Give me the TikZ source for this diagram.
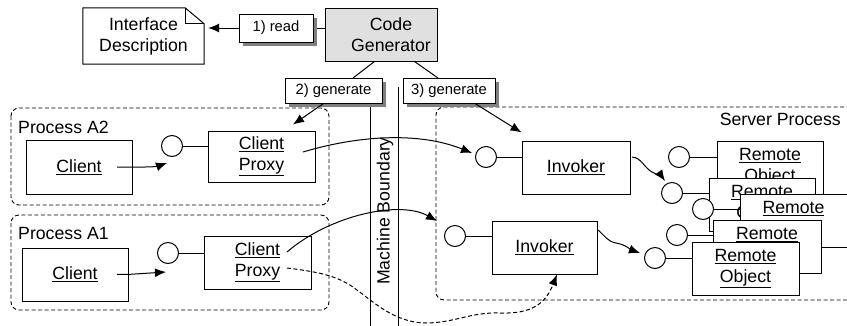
\documentclass[tikz,border=0pt]{standalone}
\usepackage{fontspec}
\setmainfont{Liberation Sans}
\usetikzlibrary{arrows.meta,shadows}
\begin{document}
\begin{tikzpicture}[x=1pt,y=-1pt,
  every node/.style={font=\fontsize{17.7}{21}\selectfont, inner sep=0pt},
  obj/.style={draw, fill=white, line width=1pt, align=center},
  tag/.style={draw, fill=white, line width=1pt, font=\fontsize{14.8}{17}\selectfont,
    drop shadow={shadow xshift=4pt, shadow yshift=-4pt, fill=black!50, opacity=1}},
  proc/.style={draw, line width=0.9pt, rounded corners=8pt, dash pattern=on 4pt off 2.5pt},
  port/.style={circle, draw, fill=white, line width=1pt, minimum size=21pt},
  conn/.style={line width=1pt},
  call/.style={line width=1pt, -{Latex[length=11pt,width=9pt]}},
  dcall/.style={call, dash pattern=on 4pt off 2.5pt},
]
\useasboundingbox (0,0) rectangle (847,325);

% process containers
\draw[proc] (11,108) rectangle (329,205);
\draw[proc] (11,215) rectangle (329,310);
\draw[proc] (870,107) -- (436,107) -- (436,300) -- (870,300);
\node[anchor=west] (lblA2) at (18,127) {Process A2};
\node[anchor=west] (lblA1) at (18,233) {Process A1};
\node[anchor=east] (lblSrv) at (841,119) {Server Process};

% machine boundary
\coordinate (mbl) at (370,87);
\coordinate (mbr) at (398,87);
\draw[conn] (mbl) -- (370,330);
\draw[conn] (mbr) -- (398,330);
\node[rotate=90] (mbtext) at (385,211) {Machine Boundary};

% code generator and interface description
\node[obj, fill=black!12, minimum width=112pt, minimum height=53pt] (cg) at (381,34.5)
  {\hspace*{20pt}Code\\\hspace*{20pt}Generator};
\node[minimum width=121pt, minimum height=56pt, align=center] (idesc) at (143.5,36) {Interface\\Description};
\draw[line width=1pt] (idesc.north west) -- ([xshift=-19pt]idesc.north east)
  -- ([yshift=-16pt]idesc.north east) -- (idesc.south east) -- (idesc.south west) -- cycle;
\draw[line width=1pt] ([xshift=-19pt]idesc.north east) -- ++(0,16) -- ([yshift=-16pt]idesc.north east);

\coordinate (rdline) at (0,28);
\draw[call, shorten >=4pt] (cg.west |- rdline) -- (idesc.east |- rdline);
\draw[conn] ([xshift=50pt]cg.south west) -- (353,78);
\draw[conn] ([xshift=90pt]cg.south west) -- (438,78);

% step labels
\node[tag, minimum width=74pt, minimum height=28pt] (read) at (276,28) {1) read};
\node[tag, minimum width=97pt, minimum height=25pt] (gen2) at (333.5,90.5) {2) generate};
\node[tag, minimum width=92pt, minimum height=25pt] (gen3) at (449,90.5) {3) generate};

% client side
\node[obj, minimum width=106pt, minimum height=54pt] (clA2) at (79,167) {\underline{Client}};
\node[obj, minimum width=107pt, minimum height=51pt] (pxA2) at (261.5,156.5) {\underline{Client}\\\underline{Proxy}};
\node[port] (ptA2) at (172,146) {};
\draw[conn] (ptA2.east) -- (ptA2.east -| pxA2.west);

\node[obj, minimum width=106pt, minimum height=53pt] (clA1) at (75,274.5) {\underline{Client}};
\node[obj, minimum width=107pt, minimum height=53pt] (pxA1) at (257.5,262.5) {\underline{Client}\\\underline{Proxy}};
\node[port] (ptA1) at (168,253) {};
\draw[conn] (ptA1.east) -- (ptA1.east -| pxA1.west);

% server side: invokers
\node[obj, minimum width=108pt, minimum height=53pt] (invU) at (576,167.5) {\underline{Invoker}};
\node[port] (ptIU) at (486,157) {};
\draw[conn] (ptIU.east) -- (ptIU.east -| invU.west);
\node[obj, minimum width=105pt, minimum height=53pt] (invL) at (544.5,247.5) {\underline{Invoker}};
\node[port] (ptIL) at (455,236) {};
\draw[conn] (ptIL.east) -- (ptIL.east -| invL.west);

% stack of remote objects, back to front
\foreach \n/\cx/\cy/\w/\px/\py in {1/770/167.5/106/679/157, 2/762/204.5/106/672/193,
    3/793.5/220.5/107/703/209, 4/767/247/108/677/235, 5/745.5/268.5/107/655/258} {
  \node[obj, minimum width=\w pt, minimum height=53pt] (ro\n) at (\cx,\cy) {\underline{Remote}\\\underline{Object}};
  \node[port] (pr\n) at (\px,\py) {};
  \draw[conn] (pr\n.east) -- (pr\n.east -| ro\n.west);
}

% generation arrows
\draw[call] ([xshift=-10pt]gen2.south) -- ([shift={(31.5,-6)}]pxA2.north);
\draw[call] ([xshift=26pt]gen3.south) -- ([shift={(0,-8)}]invU.north west);

% local calls
\draw[call] ([xshift=38pt]clA2.center) -- ([xshift=66pt]clA2.center) to[out=0,in=200] ([shift={(-5,17)}]ptA2.center);
\draw[call] ([xshift=42pt]clA1.center) to[out=10,in=180] ([xshift=52pt]clA1.center) -- ([shift={(-2,19)}]ptA1.center);

% remote calls
\draw[call] ([shift={(41.5,-4.5)}]pxA2.center) .. controls (360,135) and (420,132) .. ([shift={(-14,-4)}]ptIU.center);
\draw[call] ([shift={(29.5,-10.5)}]pxA1.center) .. controls (330,215) and (400,200) .. ([shift={(-18,-15)}]ptIL.center);
\draw[dcall] ([shift={(29.5,5.5)}]pxA1.center) .. controls (320,272) and (335,276) .. (350,285)
  .. controls (372,300) and (392,322) .. (425,323)
  .. controls (455,323) and (470,312) .. (500,313)
  .. controls (530,314) and (545,305) .. ([xshift=12.5pt]invL.south);

% invokers to remote objects
\draw[call] ([shift={(56,-10.5)}]invU.center) to[out=-5,in=150] (652,172) to[out=-30,in=125] ([shift={(-7,-12)}]pr2.center);
\draw[call] ([shift={(53.5,-17.5)}]invL.center) to[out=-40,in=170] (616,243) to[out=-10,in=160] ([shift={(-15,-5)}]pr5.center);

\end{tikzpicture}
\end{document}
